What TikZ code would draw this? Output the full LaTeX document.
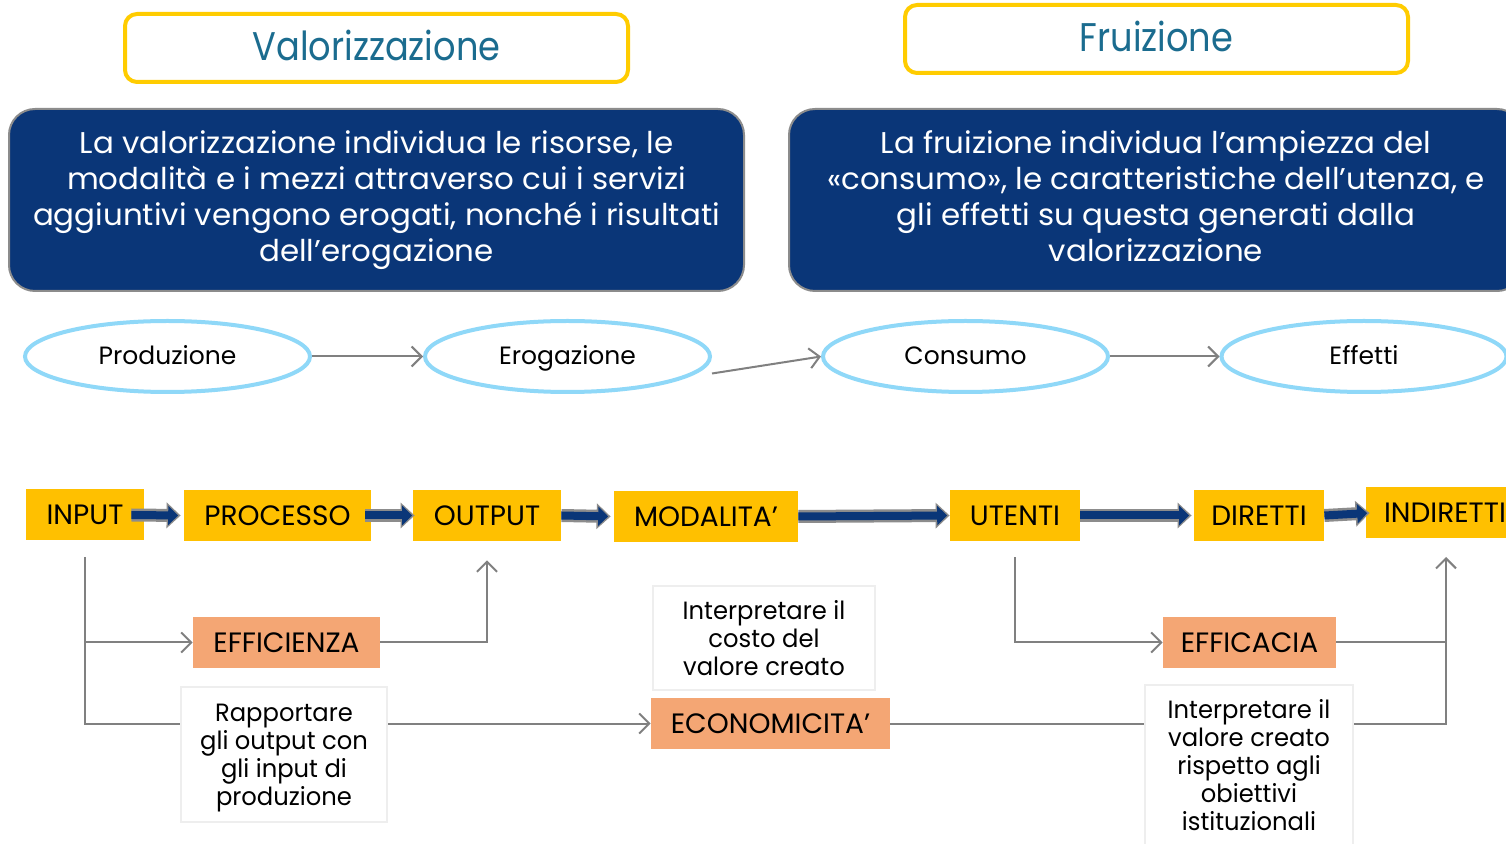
\documentclass[tikz,border=0pt]{standalone}
\usepackage{fontspec}
\setmainfont{Poppins}
\newfontfamily\labfont{Poppins}
\newfontfamily\navyfont{Poppins}[FakeStretch=1.03]
\newfontfamily\titfont{Poppins}[FakeStretch=0.88]
\newfontfamily\wfont{Poppins}[FakeStretch=0.97]
\usetikzlibrary{shapes.geometric,arrows.meta,calc}
\definecolor{navy}{RGB}{10,54,120}
\definecolor{ybord}{RGB}{255,204,0}
\definecolor{yfill}{RGB}{255,192,0}
\definecolor{ofill}{RGB}{244,166,116}
\definecolor{lblue}{RGB}{143,216,248}
\definecolor{cgray}{RGB}{128,128,128}
\definecolor{agray}{RGB}{140,140,140}
\definecolor{wbord}{RGB}{238,238,238}
\definecolor{tealt}{RGB}{27,108,143}
\begin{document}
\begin{tikzpicture}[x=0.5pt,y=-0.5pt,
  titlebox/.style={draw=ybord, line width=2pt, rounded corners=6pt, fill=white,
    minimum width=251.5pt, minimum height=34pt, inner sep=0pt, text=tealt,
    text height=14pt, text depth=1pt,
    font=\titfont\fontsize{20}{22}\selectfont},
  navybox/.style={draw=agray, line width=1pt, rounded corners=13pt, fill=navy,
    text=white, minimum height=91pt, inner sep=0pt, align=center,
    font=\navyfont\fontsize{15}{18}\selectfont},
  oval/.style={ellipse, draw=lblue, line width=2pt, minimum width=142.5pt,
    minimum height=35.5pt, inner sep=0pt, text height=11pt, text depth=3pt,
    font=\fontsize{12.5}{14}\selectfont},
  ybox/.style={fill=yfill, minimum height=25.5pt, inner sep=0pt,
    font=\labfont\fontsize{14}{16}\selectfont},
  obox/.style={fill=ofill, minimum height=25.5pt, inner sep=0pt,
    font=\labfont\fontsize{14}{16}\selectfont},
  wbox/.style={draw=wbord, line width=1pt, fill=white, align=center,
    inner sep=0pt, font=\wfont\fontsize{12.5}{14}\selectfont},
  conn/.style={draw=cgray, line width=1pt},
  carr/.style={conn, -{Straight Barb[length=5pt,width=10pt]}},
  bigarr/.style={draw=navy, line width=4pt, shorten >=1.2pt,
    -{Triangle[length=5pt,width=9.5pt]},
    preaction={draw=agray, line width=6.5pt, shorten >=0pt,
      -{Triangle[length=7pt,width=12.5pt]}}}
]
\clip (0,0) rectangle (1506,844);
\fill[white] (0,0) rectangle (1506,844);

% titles
\node[titlebox] (tval) at (376.5,48) {Valorizzazione};
\node[titlebox] (tfru) at (1156.5,39) {Fruizione};

% navy boxes
\node[navybox, minimum width=367.5pt] (nval) at (376.5,200)
  {La valorizzazione individua le risorse, le\\modalità e i mezzi attraverso cui i servizi\\aggiuntivi vengono erogati, nonché i risultati\\dell’erogazione};
\node[navybox, minimum width=367pt] (nfru) at (1156,200)
  {La fruizione individua l’ampiezza del\\«consumo», le caratteristiche dell’utenza, e\\gli effetti su questa generati dalla\\valorizzazione\vphantom{g}};

% ellipses
\node[oval] (prod) at (167.5,356.5) {Produzione};
\node[oval] (erog) at (567.5,356.5) {Erogazione};
\node[oval] (cons) at (965.5,356.5) {Consumo};
\node[oval] (eff) at (1364,356.5) {Effetti};
\draw[carr] (prod.east) -- (erog.west);
\draw[carr] ($(erog.east)+(0,17)$) -- (cons.west);
\draw[carr] (cons.east) -- (eff.west);

% yellow boxes
\node[ybox, minimum width=59pt] (input) at (85,515) {INPUT};
\node[ybox, minimum width=93.5pt] (proc) at (277.5,515.5) {PROCESSO};
\node[ybox, minimum width=74pt] (output) at (487,515.5) {OUTPUT};
\node[ybox, minimum width=92pt] (moda) at (706,516.5) {MODALITA’};
\node[ybox, minimum width=65pt] (utenti) at (1015,515.5) {UTENTI};
\node[ybox, minimum width=65pt] (dir) at (1259,515.5) {DIRETTI};
\node[ybox, minimum width=79pt] (indir) at (1445,513) {INDIRETTI};

% thick arrows
\draw[bigarr] ([xshift=-6.5pt]input.east) -- ([xshift=-1.5pt]proc.west);
\draw[bigarr] ([xshift=-3pt]proc.east) -- ([xshift=1pt]output.west);
\draw[bigarr] (output.east) -- ([xshift=-1.5pt]moda.west);
\draw[bigarr] (moda.east) -- (utenti.west);
\draw[bigarr] (utenti.east) -- ([xshift=-1pt]dir.west);
\draw[bigarr] (dir.east) -- ([xshift=2pt]indir.west);

% orange boxes
\node[obox, minimum width=93.5pt] (effic) at (286.5,642.5) {EFFICIENZA};
\node[obox, minimum width=86.5pt] (effica) at (1249.5,642.5) {EFFICACIA};
\node[obox, minimum width=119.5pt] (econ) at (770.5,723.5) {ECONOMICITA’};

% connectors
\coordinate (b1) at (85,642.5);
\draw[carr] ([yshift=-8pt]input.south) |- (econ.west);
\draw[carr] (b1) -- (effic.west);
\draw[carr] (effic.east) -| ([yshift=-9.5pt]output.south);
\draw[carr] ([yshift=-8pt]utenti.south) |- (effica.west);
\coordinate (j) at (1446,642.5);
\coordinate (jtop) at (1446,557);
\draw[conn] (effica.east) -- (j);
\draw[carr] (j) -- (jtop);
\draw[conn] (econ.east) -| (j);

% white text boxes
\node[wbox, minimum width=111pt, minimum height=52pt] (costo) at (764,638)
  {Interpretare il\\costo del\\valore creato};
\node[wbox, minimum width=103pt, minimum height=67.5pt] (rapp) at (284,754.5)
  {\rule{0pt}{12.4pt}Rapportare\\gli output con\\gli input di\\produzione};
\node[wbox, minimum width=104pt, minimum height=80.5pt] (valo) at (1249,765.5)
  {Interpretare il\\valore creato\\rispetto agli\\obiettivi\\istituzionali};
\end{tikzpicture}
\end{document}
